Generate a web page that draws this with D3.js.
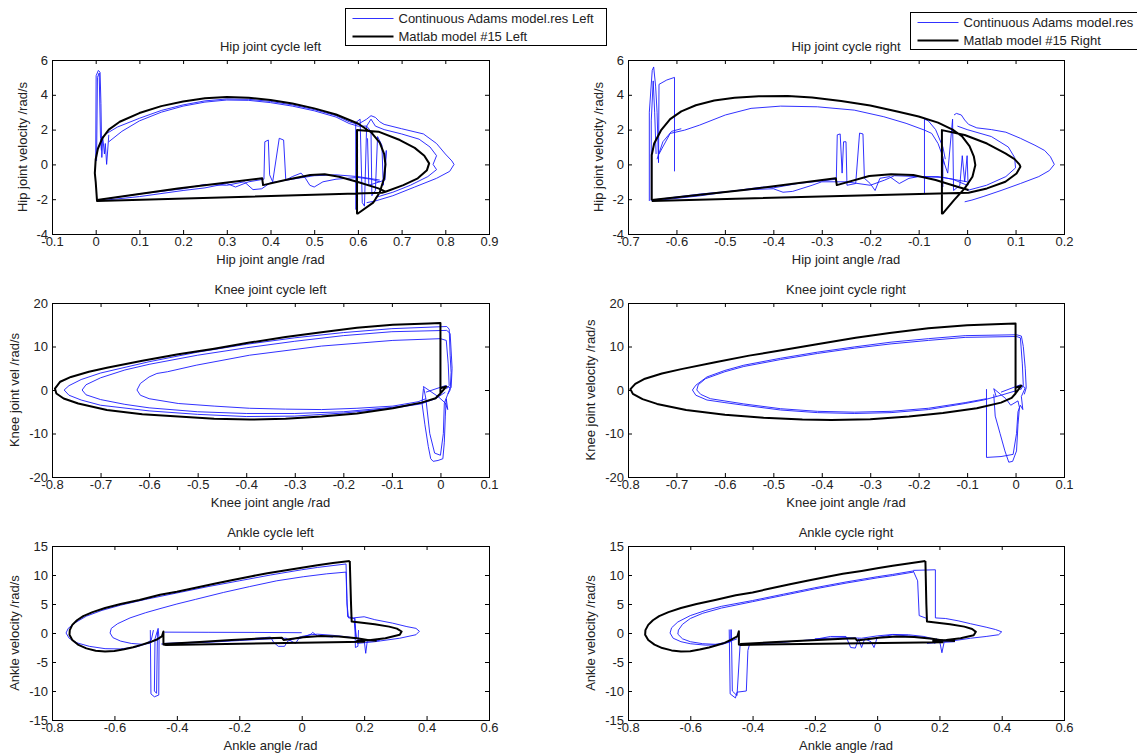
<!DOCTYPE html>
<html><head><meta charset="utf-8">
<script src="https://cdn.jsdelivr.net/npm/d3@7"></script>
<style>
html,body{margin:0;padding:0;background:#fff;}
text{font-family:"Liberation Sans",Arial,Helvetica,sans-serif;fill:#222;}
</style></head>
<body><svg id="c" width="1137" height="753"></svg>
<script>
// ---------------- DATA ----------------
// tick values
const hipLeftXTicks = [-0.1,0,0.1,0.2,0.3,0.4,0.5,0.6,0.7,0.8,0.9];
const hipRightXTicks = [-0.7,-0.6,-0.5,-0.4,-0.3,-0.2,-0.1,0,0.1,0.2];
const kneeXTicks = [-0.8,-0.7,-0.6,-0.5,-0.4,-0.3,-0.2,-0.1,0,0.1];
const ankleXTicks = [-0.8,-0.6,-0.4,-0.2,0,0.2,0.4,0.6];
const hipYTicks = [-4,-2,0,2,4,6];
const kneeYTicks = [-20,-10,0,10,20];
const ankleYTicks = [-15,-10,-5,0,5,10,15];

// titles / labels
const panelTitles = ["Hip joint cycle left","Hip joint cycle right","Knee joint cycle left","Knee joint cycle right","Ankle cycle left","Ankle cycle right"];
const xLabels = ["Hip joint angle /rad","Hip joint angle /rad","Knee joint angle /rad","Knee joint angle /rad","Ankle angle /rad","Ankle angle /rad"];
const yLabels = ["Hip joint velocity /rad/s","Hip joint velocity /rad/s","Knee joint vel /rad/s","Knee joint velocity /rad/s","Ankle velocity /rad/s","Ankle velocity /rad/s"];
const legendLeft = ["Continuous Adams model.res Left","Matlab model #15 Left"];
const legendRight = ["Continuous Adams model.res Right","Matlab model #15 Right"];

// ---- Hip left ----
const hipLeftMatlab = [
 [[0.0,0.3],[0.005,0.9],[0.015,1.5],[0.03,2.0],[0.055,2.45],[0.1,2.95],[0.15,3.35],[0.2,3.62],[0.25,3.8],[0.3,3.88],[0.35,3.83],[0.4,3.7],[0.45,3.5],[0.5,3.22],[0.55,2.87],[0.6,2.35],[0.63,1.85],[0.65,1.25],[0.66,0.6],[0.663,0.0],[0.66,-0.8],[0.65,-1.6],[0.635,-2.2],[0.6,-2.82],
  [0.598,-2.82],[0.598,1.97],[0.647,1.88],[0.696,1.4],[0.73,0.95],[0.752,0.5],[0.763,0.06],[0.758,-0.33],[0.737,-0.8],[0.704,-1.19],[0.663,-1.57],[0.655,-1.63],
  [0.003,-2.1],[0.0,-1.0],[-0.002,-0.5],[0.0,0.3]],
 [[0.003,-2.05],[0.188,-1.38],[0.381,-0.8],[0.383,-1.19],[0.434,-0.9],[0.491,-0.61],[0.524,-0.56],[0.557,-0.71],[0.598,-1.0],[0.647,-1.38],[0.663,-1.57]]
];
const hipLeftAdams = [
 [[0.0,0.3],[0.001,5.1],[0.006,5.4],[0.01,5.3],[0.012,3.5],[0.014,0.4],[0.016,1.6],[0.02,0.6],[0.022,1.2],[0.025,0.0],[0.028,1.0],[0.03,1.7]],
 [[0.002,0.2],[0.004,5.0],[0.008,5.25],[0.011,1.5],[0.013,0.8]],
 [[0.02,1.7],[0.05,2.15],[0.1,2.65],[0.15,3.1],[0.2,3.42],[0.25,3.65],[0.3,3.76],[0.35,3.74],[0.4,3.62],[0.45,3.42],[0.5,3.15],[0.55,2.8],[0.58,2.45],[0.6,2.3],[0.62,2.6],[0.63,2.8],[0.64,2.7],[0.65,2.45],[0.66,2.3],[0.7,2.05],[0.75,1.75],[0.78,1.2],[0.8,0.6],[0.815,0.2],[0.82,0],[0.81,-0.4],[0.78,-0.8],[0.73,-1.3],[0.68,-1.8],[0.64,-2.1],[0.62,-2.2]],
 [[0.03,1.3],[0.06,1.9],[0.1,2.5],[0.15,3.0],[0.2,3.35],[0.25,3.58],[0.3,3.7],[0.35,3.68],[0.4,3.55],[0.45,3.35],[0.5,3.08],[0.55,2.72],[0.58,2.35],[0.6,2.2],[0.62,2.2],[0.63,2.6],[0.64,2.2],[0.66,2.0],[0.7,1.75],[0.74,1.45],[0.765,1.0],[0.78,0.5],[0.772,0.0],[0.78,-0.3],[0.76,-0.7],[0.72,-1.2],[0.68,-1.6],[0.64,-1.9]],
 [[0.595,-2.6],[0.595,2.4],[0.605,2.6],[0.61,-2.2],[0.615,-2.4],[0.62,2.2],[0.63,1.9],[0.632,-1.8],[0.64,-1.5],[0.645,1.6],[0.655,1.1],[0.658,-1.2],[0.665,0.8],[0.662,-0.9],[0.625,-1.2],[0.622,1.5]],
 [[0.005,-2.1],[0.1,-1.85],[0.2,-1.5],[0.25,-1.35],[0.28,-1.2],[0.3,-1.1],[0.32,-1.3],[0.35,-1.0],[0.385,-0.85],[0.387,1.3],[0.395,1.4],[0.398,-0.6],[0.405,-1.0],[0.42,1.5],[0.43,1.4],[0.435,-0.9],[0.45,-0.7],[0.47,-0.5],[0.48,-0.8],[0.49,-1.2],[0.5,-1.3],[0.52,-1.0],[0.55,-0.85],[0.6,-0.75],[0.63,-0.85],[0.65,-1.0]],
 [[0.005,-2.05],[0.1,-1.7],[0.2,-1.4],[0.25,-1.15],[0.3,-1.2],[0.34,-1.0],[0.36,-1.45],[0.38,-1.4],[0.4,-1.05],[0.45,-0.85],[0.5,-0.65],[0.55,-0.6],[0.6,-0.7],[0.65,-0.9]]
];

// ---- Hip right ----
const hipRightMatlab = [
 [[-0.651,-2.05],[-0.651,0.54],[-0.646,1.2],[-0.632,1.95],[-0.613,2.6],[-0.59,3.05],[-0.56,3.4],[-0.522,3.67],[-0.48,3.83],[-0.43,3.91],[-0.37,3.93],[-0.32,3.85],[-0.26,3.65],[-0.2,3.38],[-0.142,3.03],[-0.1,2.75],[-0.06,2.4],[-0.03,2.0],[-0.01,1.6],[0.005,1.05],[0.014,0.44],[0.017,-0.04],[0.011,-0.71],[-0.005,-1.38],[-0.027,-2.05],[-0.05,-2.82],
  [-0.052,-2.82],[-0.052,1.97],[-0.005,1.69],[0.041,1.2],[0.079,0.63],[0.098,0.3],[0.108,0.0],[0.11,-0.13],[0.102,-0.52],[0.079,-1.0],[0.041,-1.38],[0.003,-1.63],[-0.651,-2.1]],
 [[-0.651,-2.05],[-0.461,-1.47],[-0.271,-0.8],[-0.269,-1.19],[-0.202,-0.67],[-0.157,-0.56],[-0.111,-0.61],[-0.065,-0.9],[-0.02,-1.28],[0.003,-1.47]]
];
const hipRightAdams = [
 [[-0.656,-2.1],[-0.656,3.0],[-0.65,5.4],[-0.647,5.6],[-0.643,4.5],[-0.64,3.0],[-0.637,0.1],[-0.636,4.6],[-0.62,4.85],[-0.604,5.0],[-0.604,-0.4]],
 [[-0.652,-2.1],[-0.652,2.5],[-0.648,4.8],[-0.645,3.0],[-0.642,0.6]],
 [[-0.636,0.6],[-0.613,1.78],[-0.583,1.97],[-0.552,2.26],[-0.499,2.84],[-0.446,3.22],[-0.385,3.35],[-0.309,3.31],[-0.233,3.12],[-0.172,2.74],[-0.126,2.36],[-0.088,1.97],[-0.073,1.78],[-0.06,1.2],[-0.05,0.44],[-0.047,0.0]],
 [[-0.64,0.3],[-0.628,1.3],[-0.61,1.9],[-0.59,2.05]],
 [[-0.088,-1.67],[-0.088,2.6],[-0.08,2.5],[-0.065,2.0],[-0.05,1.0],[-0.045,0.3]],
 [[-0.027,2.84],[-0.022,2.93],[-0.012,2.84],[-0.005,2.55],[0.003,2.3],[0.02,2.1],[0.05,2.0],[0.08,1.85],[0.11,1.5],[0.14,1.1],[0.16,0.8],[0.172,0.44],[0.18,0.0],[0.17,-0.35],[0.148,-0.7],[0.11,-1.1],[0.07,-1.5],[0.033,-1.85],[0.01,-2.05],[-0.005,-2.15]],
 [[-0.02,2.2],[0.0,2.0],[0.05,1.6],[0.085,1.0],[0.098,0.4],[0.1,-0.2],[0.08,-0.7],[0.04,-1.2],[0.0,-1.5]],
 [[-0.05,-1.3],[-0.05,0.3],[-0.04,-0.5],[-0.03,2.6],[-0.028,-1.5],[-0.015,-1.2],[-0.01,0.5],[-0.005,-1.0],[0.0,0.5],[0.002,-1.2]],
 [[-0.65,-2.1],[-0.55,-1.8],[-0.5,-1.6],[-0.45,-1.4],[-0.42,-1.3],[-0.4,-1.35],[-0.35,-1.1],[-0.3,-0.95],[-0.27,-0.85],[-0.268,1.7],[-0.262,1.75],[-0.258,-0.5],[-0.255,1.3],[-0.25,1.3],[-0.248,-1.2],[-0.23,-1.1],[-0.222,1.8],[-0.215,1.75],[-0.212,-0.8],[-0.2,-1.1],[-0.19,-1.5],[-0.18,-0.8],[-0.16,-0.7],[-0.14,-1.1],[-0.12,-0.8],[-0.1,-0.7],[-0.06,-0.7],[-0.03,-0.85],[0.0,-1.2]],
 [[-0.65,-2.05],[-0.55,-1.7],[-0.45,-1.45],[-0.4,-1.4],[-0.38,-1.6],[-0.36,-1.55],[-0.32,-1.2],[-0.3,-1.0],[-0.25,-1.0],[-0.2,-1.2],[-0.17,-0.9],[-0.15,-0.65],[-0.1,-0.7],[-0.05,-0.75],[0.0,-1.0]]
];

// ---- Knee left ----
const kneeLeftMatlab = [
 [[0.0,-0.8],[0.0,15.4],[-0.024,15.3],[-0.098,15.0],[-0.172,14.3],[-0.245,13.3],[-0.319,12.2],[-0.393,10.9],[-0.466,9.5],[-0.54,8.2],[-0.614,6.7],[-0.687,5.1],[-0.724,4.2],[-0.761,3.0],[-0.783,1.9],[-0.794,0.34],[-0.791,-0.8],[-0.776,-1.95],[-0.746,-3.1],[-0.687,-4.6],[-0.614,-5.6],[-0.54,-6.1],[-0.466,-6.6],[-0.393,-6.8],[-0.319,-6.6],[-0.245,-6.1],[-0.172,-5.4],[-0.098,-4.2],[-0.039,-2.9],[-0.01,-1.9],[0.0,-0.8],[0.012,0.8],[0.0,0.4]]
];
const kneeLeftAdams = [
 [[0.013,14.6],[-0.1,14.1],[-0.2,13.2],[-0.3,12.0],[-0.4,10.5],[-0.5,8.7],[-0.6,6.5],[-0.7,3.9],[-0.74,2.4],[-0.765,1.0],[-0.775,0],[-0.765,-1.2],[-0.74,-2.3],[-0.7,-3.5],[-0.6,-4.8],[-0.5,-5.6],[-0.4,-6.1],[-0.3,-6.0],[-0.2,-5.3],[-0.1,-4.2],[-0.04,-3.2],[-0.01,-2.0],[0.01,-0.5]],
 [[0.013,13.7],[-0.1,13.4],[-0.2,12.5],[-0.3,11.2],[-0.4,9.7],[-0.5,8.0],[-0.6,5.9],[-0.65,4.6],[-0.7,2.8],[-0.73,1.2],[-0.738,0],[-0.73,-1.1],[-0.7,-2.2],[-0.65,-3.3],[-0.6,-4.1],[-0.5,-5.0],[-0.4,-5.4],[-0.3,-5.4],[-0.2,-5.0],[-0.1,-4.0],[-0.04,-3.0]],
 [[0.0,11.8],[-0.098,11.4],[-0.245,10.1],[-0.393,8.0],[-0.503,5.7],[-0.562,4.2],[-0.584,3.8],[-0.6,3.0],[-0.618,1.5],[-0.625,0],[-0.618,-1.2],[-0.6,-2.0],[-0.54,-3.1],[-0.466,-3.7],[-0.393,-4.2],[-0.319,-4.4],[-0.245,-4.5],[-0.172,-4.2],[-0.098,-3.7],[-0.046,-2.7],[-0.03,-2.0]],
 [[0.013,14.6],[0.018,14.0],[0.02,8.0],[0.022,4.0],[0.02,0.0],[0.015,-1.0]],
 [[0.0,11.8],[0.012,11.4],[0.016,6.0],[0.018,1.0],[0.012,0.2]],
 [[0.013,13.7],[0.02,13.0],[0.024,5.0],[0.022,0.5]],
 [[-0.035,0.3],[-0.038,-3],[-0.032,-8],[-0.025,-13],[-0.02,-15.8],[-0.015,-16.4],[-0.005,-16.2],[0.005,-15.8],[0.008,-12],[0.01,-6],[0.012,-2],[0.015,-4.5],[0.01,-3],[-0.005,-1.5],[-0.035,0.8],[-0.03,-2],[-0.022,-10],[-0.012,-14.5],[0.0,-15],[0.006,-10],[0.008,-3],[0.015,-1],[0.02,0.5],[0.01,1.0],[-0.03,-0.5]]
];

// ---- Knee right ----
const kneeRightMatlab = [
 [[0.0,-0.8],[0.0,15.3],[-0.03,15.2],[-0.1,14.9],[-0.18,14.2],[-0.26,13.1],[-0.33,12.0],[-0.41,10.5],[-0.48,9.2],[-0.55,7.9],[-0.62,6.4],[-0.69,4.8],[-0.73,3.8],[-0.765,2.6],[-0.785,1.4],[-0.795,0.2],[-0.79,-0.9],[-0.77,-2.1],[-0.74,-3.2],[-0.68,-4.6],[-0.6,-5.7],[-0.52,-6.4],[-0.44,-6.8],[-0.38,-6.9],[-0.3,-6.7],[-0.22,-6.1],[-0.15,-5.3],[-0.08,-4.2],[-0.03,-2.9],[-0.008,-1.8],[0.0,-0.8],[0.012,1.0],[0.0,0.5]]
];
const kneeRightAdams = [
 [[0.002,12.7],[-0.104,12.5],[-0.18,11.8],[-0.257,11.0],[-0.333,9.9],[-0.409,8.7],[-0.485,7.3],[-0.561,5.7],[-0.6,4.5],[-0.637,3.0],[-0.66,1.1],[-0.667,0],[-0.66,-1.2],[-0.637,-2.3],[-0.6,-2.9],[-0.561,-3.5],[-0.485,-4.6],[-0.409,-5.2],[-0.333,-5.4],[-0.257,-5.2],[-0.18,-4.5],[-0.104,-3.1],[-0.066,-2.3],[-0.03,-1.2],[0.0,-0.2]],
 [[0.002,12.3],[-0.104,12.1],[-0.18,11.4],[-0.257,10.6],[-0.333,9.6],[-0.409,8.4],[-0.485,7.0],[-0.561,5.4],[-0.6,4.2],[-0.64,2.6],[-0.655,1.2],[-0.658,0],[-0.65,-1.0],[-0.63,-2.0],[-0.561,-3.2],[-0.485,-4.3],[-0.409,-4.9],[-0.333,-5.1],[-0.257,-4.9],[-0.18,-4.2],[-0.104,-2.9],[-0.06,-2.0]],
 [[0.002,12.7],[0.012,12.4],[0.016,10.0],[0.02,5.0],[0.022,0.5],[0.018,-1.0]],
 [[0.002,12.3],[0.01,12.0],[0.014,6.0],[0.016,1.0],[0.01,0.0]],
 [[-0.06,0.2],[-0.06,-15.5],[-0.03,-15.3],[-0.005,-14.8],[0.002,-10],[0.005,-5],[0.01,-3.5],[0.015,-4.5],[0.012,-1.5],[0.02,0.5],[0.01,1.2],[-0.03,-0.5]],
 [[-0.045,-1],[-0.042,-6],[-0.032,-10],[-0.022,-14],[-0.014,-16.6],[-0.006,-16.4],[0.002,-14],[0.005,-8],[0.008,-4],[0.005,-2.5],[-0.01,-3.5],[-0.02,-2.0],[-0.045,0.3],[-0.04,-1.5]]
];

// ---- Ankle left ----
const ankleLeftMatlab = [
 [[0.154,12.4],[0.158,5.0],[0.16,2.0],[0.234,1.5],[0.28,1.1],[0.305,0.75],[0.32,0.26],[0.314,-0.3],[0.268,-0.9],[0.222,-1.2],[0.177,-1.37],[0.2,-1.5],[-0.435,-2.05],
  [-0.443,-2.0],[-0.443,0.27],[-0.448,-0.6],[-0.466,-1.17],[-0.49,-1.65],[-0.511,-2.0],[-0.54,-2.45],[-0.569,-2.8],[-0.6,-3.1],[-0.63,-3.2],[-0.66,-3.05],[-0.69,-2.65],[-0.717,-2.0],[-0.735,-1.2],[-0.744,-0.3],[-0.743,0.5],[-0.735,1.4],[-0.72,2.2],[-0.7,2.9],[-0.67,3.6],[-0.63,4.3],[-0.58,5.0],[-0.52,5.7],[-0.454,6.6],[-0.4,7.1],[-0.34,7.8],[-0.28,8.5],[-0.225,9.1],[-0.16,9.8],[-0.11,10.3],[-0.05,10.8],[0.005,11.3],[0.05,11.7],[0.1,12.05],[0.154,12.4]],
 [[-0.443,-1.9],[-0.34,-1.6],[-0.225,-1.2],[-0.11,-0.9],[-0.064,-0.8],[-0.058,-1.2],[0.005,-0.75],[0.062,-0.5],[0.119,-0.6],[0.177,-0.9],[0.211,-1.2],[0.24,-1.35]]
];
const ankleLeftAdams = [
 [[0.142,11.9],[0.05,11.3],[0.0,10.9],[-0.1,10.0],[-0.2,9.0],[-0.3,8.0],[-0.4,6.9],[-0.5,5.8],[-0.58,4.8],[-0.64,3.9],[-0.69,2.9],[-0.725,1.8],[-0.748,0.8],[-0.755,0],[-0.745,-0.9],[-0.72,-1.7],[-0.68,-2.3],[-0.63,-2.7],[-0.58,-2.75],[-0.53,-2.4],[-0.5,-1.9],[-0.482,-1.2],[-0.475,0.5]],
 [[0.142,11.9],[0.145,6.0],[0.147,2.8],[0.165,2.6],[0.2,2.8],[0.234,2.3],[0.291,1.7],[0.337,1.1],[0.366,0.8],[0.377,0.3],[0.366,-0.3],[0.314,-0.9],[0.234,-1.5],[0.177,-1.8]],
 [[0.142,10.5],[0.08,10.2],[0.005,9.7],[-0.08,9.0],[-0.167,8.0],[-0.25,7.0],[-0.34,5.8],[-0.4,5.0],[-0.454,4.2],[-0.5,3.5],[-0.55,2.6],[-0.59,1.6],[-0.61,0.8],[-0.614,0.0],[-0.605,-0.8],[-0.58,-1.4],[-0.546,-1.8],[-0.51,-1.95],[-0.488,-1.8],[-0.47,-1.2]],
 [[0.142,10.5],[0.145,5.0],[0.15,2.6],[0.17,2.5],[0.175,-1.0],[0.168,2.0]],
 [[-0.44,0.15],[-0.3,0.12],[-0.15,0.1],[0.0,0.05]],
 [[-0.485,0.5],[-0.483,-10.5],[-0.472,-11.0],[-0.458,-10.7],[-0.457,-1.0],[-0.46,0.8],[-0.47,-1.0],[-0.472,-10.0],[-0.465,-10.4],[-0.462,0.3]],
 [[-0.44,-1.8],[-0.3,-1.5],[-0.2,-1.2],[-0.12,-0.8],[-0.1,-0.7],[-0.09,-1.6],[-0.075,-2.3],[-0.055,-2.3],[-0.045,-1.4],[-0.03,-1.1],[0.0,-0.6],[0.03,-0.3],[0.05,-0.2],[0.1,-0.4],[0.15,-0.7],[0.2,-1.2],[0.205,-3.5],[0.21,-1.4],[0.25,-1.3]],
 [[0.17,2.6],[0.172,-2.5],[0.18,-2.3],[0.182,0.5]],
 [[-0.45,-1.9],[-0.3,-1.6],[-0.2,-1.3],[-0.1,-1.0],[-0.05,-0.9],[-0.02,-1.8],[-0.01,-1.0],[0.03,-0.2],[0.035,0.1],[0.05,-0.5],[0.1,-0.7]]
];

// ---- Ankle right ----
const ankleRightMatlab = [
 [[0.155,12.4],[0.158,5.0],[0.16,2.0],[0.234,1.5],[0.28,1.1],[0.305,0.7],[0.317,0.2],[0.31,-0.4],[0.268,-0.9],[0.222,-1.2],[0.18,-1.35],[0.21,-1.6],[-0.44,-2.05],
  [-0.444,-2.0],[-0.444,0.3],[-0.449,-0.6],[-0.47,-1.2],[-0.49,-1.7],[-0.515,-2.1],[-0.54,-2.5],[-0.57,-2.85],[-0.6,-3.15],[-0.63,-3.2],[-0.66,-3.0],[-0.69,-2.6],[-0.715,-2.0],[-0.735,-1.2],[-0.745,-0.3],[-0.744,0.5],[-0.735,1.4],[-0.72,2.2],[-0.7,2.9],[-0.67,3.6],[-0.63,4.3],[-0.58,5.0],[-0.52,5.7],[-0.454,6.5],[-0.4,7.0],[-0.34,7.7],[-0.28,8.4],[-0.225,9.0],[-0.16,9.7],[-0.11,10.2],[-0.05,10.7],[0.005,11.2],[0.05,11.6],[0.1,12.0],[0.155,12.4]],
 [[-0.44,-1.9],[-0.34,-1.6],[-0.225,-1.3],[-0.11,-1.0],[-0.07,-0.9],[-0.065,-1.3],[0.005,-0.8],[0.062,-0.6],[0.119,-0.7],[0.177,-1.0],[0.211,-1.3],[0.25,-1.4]]
];
const ankleRightAdams = [
 [[0.116,10.7],[0.05,10.1],[0.0,9.7],[-0.1,8.8],[-0.2,7.8],[-0.3,6.7],[-0.4,5.6],[-0.5,4.6],[-0.55,3.9],[-0.6,3.0],[-0.64,1.9],[-0.66,0.9],[-0.665,0],[-0.655,-0.9],[-0.63,-1.5],[-0.6,-1.85],[-0.55,-2.1],[-0.5,-2.0],[-0.47,-1.5],[-0.47,0.6]],
 [[0.116,10.5],[0.05,9.9],[0.0,9.5],[-0.1,8.6],[-0.2,7.6],[-0.3,6.5],[-0.4,5.4],[-0.5,4.3],[-0.56,3.4],[-0.6,2.5],[-0.625,1.5],[-0.638,0.5],[-0.64,-0.2],[-0.625,-1.0],[-0.6,-1.5],[-0.56,-1.85],[-0.52,-1.95],[-0.48,-1.6],[-0.45,-1.0]],
 [[0.116,10.7],[0.13,9.0],[0.135,3.0],[0.16,2.5]],
 [[0.116,10.8],[0.187,10.9],[0.187,2.6],[0.22,2.5],[0.26,2.1],[0.3,1.6],[0.35,1.0],[0.38,0.6],[0.4,0.2],[0.39,-0.3],[0.35,-0.6],[0.3,-0.9],[0.25,-1.3],[0.2,-1.6],[0.16,-1.8]],
 [[-0.475,0.6],[-0.472,-10.5],[-0.455,-11.2],[-0.45,-10.2],[-0.42,-10.0],[-0.415,-3.0],[-0.41,-2.0]],
 [[-0.468,0.6],[-0.465,-10.0],[-0.45,-10.8],[-0.44,-2.0]],
 [[-0.43,-2.0],[-0.3,-1.6],[-0.2,-1.1],[-0.15,-0.6],[-0.1,-0.6],[-0.085,-2.5],[-0.07,-2.6],[-0.06,-1.0],[-0.05,-2.5],[-0.04,-1.0],[-0.02,-1.5],[-0.01,-2.5],[0.0,-0.8],[0.05,-0.3],[0.1,-0.5],[0.15,-0.8],[0.2,-1.2],[0.208,-3.4],[0.215,-1.6],[0.25,-1.5]],
 [[-0.2,-1.0],[-0.1,-0.8],[-0.05,-0.9],[0.0,-0.5],[0.05,-0.25],[0.1,-0.3],[0.15,-0.6],[0.18,-1.0],[0.185,-1.8],[0.19,-0.9]]
];

// ---------------- LAYOUT ----------------
const colX = [[52,489],[628,1064]];
const rowY = [[60,234],[303,477],[546,720]];
const ylabOffset = [30,38,38];
const FS = 13;

const panels = [
 {r:0,c:0,xd:[-0.1,0.9],yd:[-4,6],xt:hipLeftXTicks,yt:hipYTicks,m:hipLeftMatlab,a:hipLeftAdams},
 {r:0,c:1,xd:[-0.7,0.2],yd:[-4,6],xt:hipRightXTicks,yt:hipYTicks,m:hipRightMatlab,a:hipRightAdams},
 {r:1,c:0,xd:[-0.8,0.1],yd:[-20,20],xt:kneeXTicks,yt:kneeYTicks,m:kneeLeftMatlab,a:kneeLeftAdams},
 {r:1,c:1,xd:[-0.8,0.1],yd:[-20,20],xt:kneeXTicks,yt:kneeYTicks,m:kneeRightMatlab,a:kneeRightAdams},
 {r:2,c:0,xd:[-0.8,0.6],yd:[-15,15],xt:ankleXTicks,yt:ankleYTicks,m:ankleLeftMatlab,a:ankleLeftAdams},
 {r:2,c:1,xd:[-0.8,0.6],yd:[-15,15],xt:ankleXTicks,yt:ankleYTicks,m:ankleRightMatlab,a:ankleRightAdams}
];

const BLUE = "#1a1aff", BLACK = "#000";
const fmt = v => String(+(+v).toFixed(2));
const svg = d3.select("#c");

panels.forEach((p,i) => {
  const [x0,x1] = colX[p.c], [y0,y1] = rowY[p.r];
  const x = d3.scaleLinear().domain(p.xd).range([x0,x1]);
  const y = d3.scaleLinear().domain(p.yd).range([y1,y0]);
  const g = svg.append("g");
  const clipId = "clip"+i;
  g.append("clipPath").attr("id",clipId).append("rect").attr("x",x0).attr("y",y0).attr("width",x1-x0).attr("height",y1-y0);
  g.append("rect").attr("x",x0).attr("y",y0).attr("width",x1-x0).attr("height",y1-y0).attr("fill","#fff");

  const line = d3.line().x(d=>x(d[0])).y(d=>y(d[1]));
  const data = g.append("g").attr("clip-path",`url(#${clipId})`);
  data.selectAll("path.ad").data(p.a).join("path").attr("class","ad")
    .attr("d",line).attr("fill","none").attr("stroke",BLUE).attr("stroke-width",0.9).attr("stroke-linejoin","round");
  data.selectAll("path.ml").data(p.m).join("path").attr("class","ml")
    .attr("d",line).attr("fill","none").attr("stroke",BLACK).attr("stroke-width",2).attr("stroke-linejoin","round");

  const styleAxis = sel => {
    sel.select(".domain").remove();
    sel.selectAll(".tick line").attr("stroke","#000");
    sel.selectAll(".tick text").attr("font-size",FS).attr("fill","#222").style("font-family",'"Liberation Sans",Arial,sans-serif');
  };
  g.append("g").attr("transform",`translate(0,${y1})`)
    .call(d3.axisBottom(x).tickValues(p.xt).tickSizeInner(-4).tickSizeOuter(0).tickPadding(3).tickFormat(fmt)).call(styleAxis);
  g.append("g").attr("transform",`translate(0,${y0})`)
    .call(d3.axisTop(x).tickValues(p.xt).tickSizeInner(-4).tickSizeOuter(0).tickFormat("")).call(styleAxis);
  g.append("g").attr("transform",`translate(${x0},0)`)
    .call(d3.axisLeft(y).tickValues(p.yt).tickSizeInner(-4).tickSizeOuter(0).tickPadding(4).tickFormat(fmt)).call(styleAxis);
  g.append("g").attr("transform",`translate(${x1},0)`)
    .call(d3.axisRight(y).tickValues(p.yt).tickSizeInner(-4).tickSizeOuter(0).tickFormat("")).call(styleAxis);

  g.append("rect").attr("x",x0).attr("y",y0).attr("width",x1-x0).attr("height",y1-y0)
    .attr("fill","none").attr("stroke","#000").attr("stroke-width",1).attr("shape-rendering","crispEdges");

  g.append("text").attr("x",(x0+x1)/2).attr("y",y0-9.5).attr("text-anchor","middle").attr("font-size",FS).text(panelTitles[i]);
  g.append("text").attr("x",(x0+x1)/2).attr("y",y1+29.5).attr("text-anchor","middle").attr("font-size",FS).text(xLabels[i]);
  const yl = x0 - ylabOffset[p.r];
  g.append("text").attr("transform",`translate(${yl},${(y0+y1)/2}) rotate(-90)`).attr("text-anchor","middle")
    .attr("dy","0.35em").attr("font-size",FS).text(yLabels[i]);
});

// legends
function legend(lx, ly, w, h, labels) {
  const g = svg.append("g");
  g.append("rect").attr("x",lx).attr("y",ly).attr("width",w).attr("height",h)
    .attr("fill","#fff").attr("stroke","#000").attr("stroke-width",1).attr("shape-rendering","crispEdges");
  const styles = [{c:BLUE,w:0.9},{c:BLACK,w:2}];
  labels.forEach((t,k) => {
    const yy = ly + 10 + k*18;
    g.append("line").attr("x1",lx+7).attr("x2",lx+48).attr("y1",yy).attr("y2",yy)
      .attr("stroke",styles[k].c).attr("stroke-width",styles[k].w);
    g.append("text").attr("x",lx+53).attr("y",yy).attr("dy","0.35em").attr("font-size",FS).text(t);
  });
}
legend(345.5, 8.5, 261, 37, legendLeft);
legend(910.5, 12.5, 262, 37, legendRight);
</script></body></html>
